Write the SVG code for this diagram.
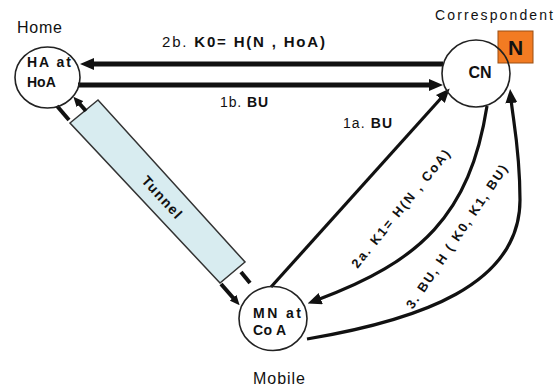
<svg xmlns="http://www.w3.org/2000/svg" width="555" height="389" viewBox="0 0 555 389">
<style>
text{font-family:"Liberation Sans",Arial,sans-serif;fill:#111}
.node{fill:none;stroke:#222;stroke-width:1.6}
.nt{font-weight:bold;font-size:14px}
.lbl{font-size:16px}
.el{font-size:14px}
.thick{fill:none;stroke:#111;stroke-width:5}
.med{fill:none;stroke:#111;stroke-width:3.2}
.lane{fill:none;stroke:#111;stroke-width:4}
</style>
<defs>
<marker id="ah" viewBox="0 0 14 12" refX="4" refY="6" markerWidth="14" markerHeight="12" markerUnits="userSpaceOnUse" orient="auto"><path d="M0,0 L14,6 L0,12 Z" fill="#111"/></marker>
<marker id="ahs" viewBox="0 0 10 9" refX="3" refY="4.5" markerWidth="10" markerHeight="9" markerUnits="userSpaceOnUse" orient="auto"><path d="M0,0 L10,4.5 L0,9 Z" fill="#111"/></marker>
</defs>
<rect width="555" height="389" fill="#fff"/>

<g id="tunnel">
<polygon points="98,100 70,123 220,283 245,262" fill="#d8ecf0" stroke="#333" stroke-width="1.5"/>
<text class="nt" text-anchor="middle" transform="translate(162,197) rotate(47.3)" dy="5" textLength="52">Tunnel</text>
</g>

<g id="connectors">
<line class="thick" x1="443" y1="64" x2="90" y2="64" marker-end="url(#ah)"/>
<line class="thick" x1="78" y1="85" x2="433" y2="85" marker-end="url(#ah)"/>
<line class="med" x1="271" y1="287" x2="443" y2="96" marker-end="url(#ah)"/>
<path class="med" d="M487,106 C470,215 420,262 317,300" marker-end="url(#ah)"/>
<path class="med" d="M307,339 C420,320 520,285 520,200 C520,150 513,120 511,99" marker-end="url(#ah)"/>
<line class="lane" x1="57" y1="106" x2="69" y2="120"/>
<line class="lane" x1="221" y1="284" x2="235" y2="300" marker-end="url(#ahs)"/>
<line class="lane" x1="241" y1="272" x2="250" y2="283"/>
<line class="lane" x1="86" y1="111" x2="78" y2="102" marker-end="url(#ahs)"/>
</g>

<g id="labels">
<text x="162" y="47" font-size="15" textLength="163">2b. <tspan font-weight="bold">K0= H(N , HoA)</tspan></text>
<text x="220" y="107" class="el" textLength="48">1b. <tspan font-weight="bold">BU</tspan></text>
<text x="343" y="128" class="el" textLength="49">1a. <tspan font-weight="bold">BU</tspan></text>
<text font-size="13" font-weight="bold" text-anchor="middle" transform="translate(401,209) rotate(-51)" dy="4" textLength="148">2a. K1= H(N , CoA)</text>
<text font-size="13" font-weight="bold" text-anchor="middle" transform="translate(457,237) rotate(-56)" dy="4" textLength="170">3. BU, H ( K0, K1, BU)</text>
</g>

<g id="home">
<ellipse class="node" cx="47.5" cy="77.5" rx="32.5" ry="30.5"/>
<text x="27" y="67" class="nt" textLength="44">HA at</text>
<text x="27" y="87" class="nt">HoA</text>
<text x="17" y="33" class="lbl" textLength="45">Home</text>
</g>

<g id="correspondent">
<rect x="498" y="31" width="35" height="32" fill="#f27b22" stroke="#9a4e12" stroke-width="1"/>
<text x="515.5" y="55" font-size="21" font-weight="bold" text-anchor="middle">N</text>
<ellipse class="node" cx="476" cy="73.5" rx="34" ry="33.5"/>
<text x="480" y="78" font-size="16" font-weight="bold" text-anchor="middle">CN</text>
<text x="435" y="20" font-size="14" textLength="118">Correspondent</text>
</g>

<g id="mobile">
<ellipse class="node" cx="273" cy="318.5" rx="34" ry="32"/>
<text x="253" y="318" class="nt" font-size="15" textLength="48">MN at</text>
<text x="253" y="335" class="nt" font-size="15" textLength="33">Co A</text>
<text x="253" y="384" class="lbl" textLength="52">Mobile</text>
</g>
</svg>
